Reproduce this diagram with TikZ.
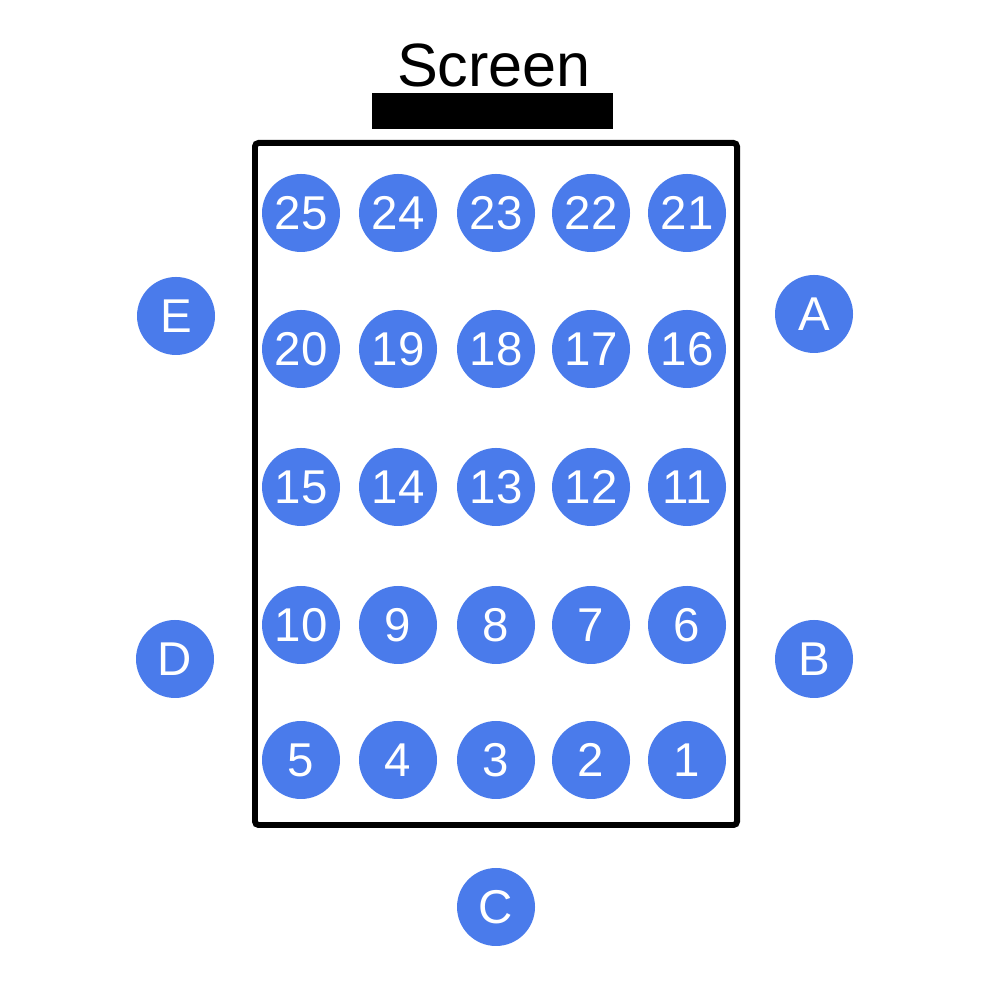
\documentclass[tikz,border=0pt]{standalone}
\usepackage{fontspec}
\setmainfont{Liberation Sans}
\definecolor{seatblue}{HTML}{4A7BEB}
\tikzset{
  seatdot/.style={circle,fill=seatblue,text=white,inner sep=0pt,
    minimum size=.78cm,font=\fontsize{13.5}{16}\selectfont},
}
\begin{document}
\begin{tikzpicture}[line cap=round]
  \useasboundingbox (0,0) rectangle (10,10);
  % The screen and its label.
  \fill (3.72,8.71) rectangle (6.13,9.07);
  \node[anchor=base,inner sep=0pt,font=\fontsize{17.4}{20}\selectfont] (screen) at (4.94,9.13) {Screen};
  % The room.
  \draw[line width=1.7pt,rounded corners=1pt] (2.55,1.75) rectangle (7.37,8.57);
  % Seats, numbered from the front right row by row.
  \foreach \r/\y in {0/2.40,1/3.75,2/5.13,3/6.51,4/7.87} {
    \foreach \k/\x in {1/6.87,2/5.91,3/4.96,4/3.98,5/3.01} {
      \pgfmathtruncatemacro\n{5*\r+\k}
      \node[seatdot] (s\n) at (\x,\y) {\n};
    }
  }
  % Points round the room.
  \node[seatdot] (A) at (8.14,6.86) {A};
  \node[seatdot] (B) at (8.14,3.41) {B};
  \node[seatdot] (C) at (4.96,0.93) {C};
  \node[seatdot] (D) at (1.75,3.41) {D};
  \node[seatdot] (E) at (1.76,6.84) {E};
\end{tikzpicture}
\end{document}
